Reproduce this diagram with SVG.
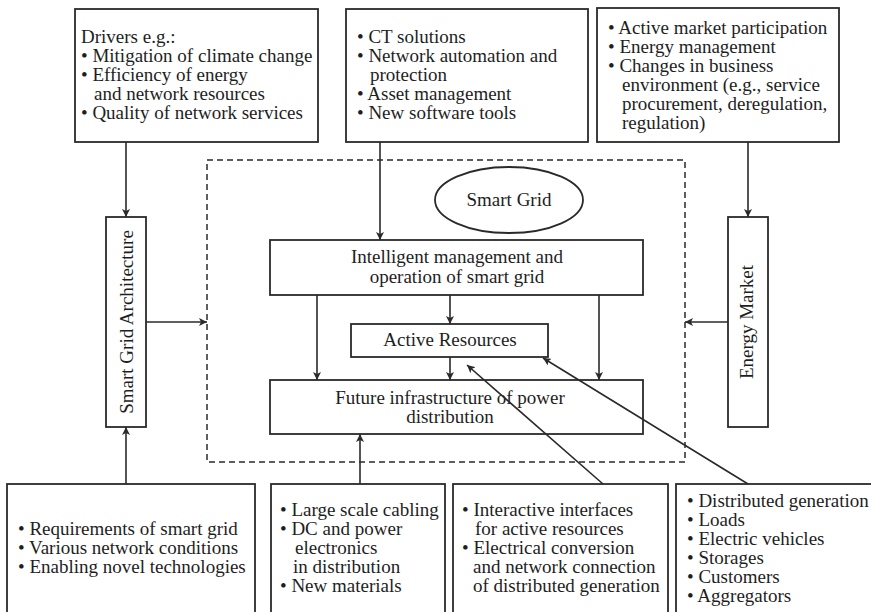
<svg xmlns="http://www.w3.org/2000/svg" width="871" height="612" viewBox="0 0 871 612" font-family="'Liberation Serif', 'Times New Roman', 'DejaVu Serif', serif">
  <style>
    .box { fill: #fff; stroke: #2a2a2a; stroke-width: 1.8; }
    .dash { fill: none; stroke: #2a2a2a; stroke-width: 1.5; stroke-dasharray: 6 4; }
    .wire { fill: none; stroke: #2a2a2a; stroke-width: 1.6; marker-end: url(#arrow); }
    text { font-family: 'Liberation Serif', 'Times New Roman', serif; font-size: 19px; fill: #1e1e1e; }
    .mid { text-anchor: middle; }
  </style>
  <defs>
    <marker id="arrow" viewBox="0 0 10 10" refX="10" refY="5" markerWidth="8" markerHeight="8" orient="auto" markerUnits="userSpaceOnUse">
      <path d="M0,0 L10,5 L0,10 L2.5,5 Z" fill="#2a2a2a"/>
    </marker>
  </defs>
  <rect width="871" height="612" fill="#fff"/>

  <!-- dashed smart grid frame -->
  <rect id="frame" class="dash" x="207" y="160" width="478" height="302"/>

  <g id="drivers">
    <rect class="box" x="75" y="9" width="243" height="133"/>
    <text x="81" y="43">Drivers e.g.:</text>
    <text x="81" y="62">• Mitigation of climate change</text>
    <text x="81" y="81">• Efficiency of energy</text>
    <text x="94" y="100">and network resources</text>
    <text x="81" y="119">• Quality of network services</text>
  </g>

  <g id="ict">
    <rect class="box" x="346" y="9" width="242" height="133"/>
    <text x="357" y="43">• CT solutions</text>
    <text x="357" y="62">• Network automation and</text>
    <text x="370" y="81">protection</text>
    <text x="357" y="100">• Asset management</text>
    <text x="357" y="119">• New software tools</text>
  </g>

  <g id="market-drivers">
    <rect class="box" x="597" y="8" width="242" height="134"/>
    <text x="608" y="34">• Active market participation</text>
    <text x="608" y="53">• Energy management</text>
    <text x="608" y="72">• Changes in business</text>
    <text x="622" y="91">environment (e.g., service</text>
    <text x="622" y="110">procurement, deregulation,</text>
    <text x="622" y="129">regulation)</text>
  </g>

  <g id="architecture">
    <rect class="box" x="106" y="217" width="40" height="210"/>
    <text class="mid" transform="translate(133 322) rotate(-90)">Smart Grid Architecture</text>
  </g>

  <g id="energy-market">
    <rect class="box" x="728" y="217" width="40" height="210"/>
    <text class="mid" transform="translate(753 322) rotate(-90)">Energy Market</text>
  </g>

  <g id="smart-grid">
    <ellipse class="box" cx="509" cy="200" rx="74" ry="33"/>
    <text class="mid" x="509" y="206">Smart Grid</text>
  </g>

  <g id="management">
    <rect class="box" x="270" y="240" width="373" height="55"/>
    <text class="mid" x="457" y="263">Intelligent management and</text>
    <text class="mid" x="457" y="283">operation of smart grid</text>
  </g>

  <g id="active-resources">
    <rect class="box" x="351" y="324" width="197" height="33"/>
    <text class="mid" x="450" y="346">Active Resources</text>
  </g>

  <g id="infrastructure">
    <rect class="box" x="270" y="380" width="373" height="54"/>
    <text class="mid" x="450" y="404">Future infrastructure of power</text>
    <text class="mid" x="450" y="423">distribution</text>
  </g>

  <g id="requirements">
    <rect class="box" x="7" y="484" width="248" height="140"/>
    <text x="18" y="535">• Requirements of smart grid</text>
    <text x="18" y="554">• Various network conditions</text>
    <text x="18" y="573">• Enabling novel technologies</text>
  </g>

  <g id="cabling">
    <rect class="box" x="271" y="484" width="174" height="140"/>
    <text x="280" y="516">• Large scale cabling</text>
    <text x="280" y="535">• DC and power</text>
    <text x="295" y="554">electronics</text>
    <text x="293" y="573">in distribution</text>
    <text x="280" y="592">• New materials</text>
  </g>

  <g id="interfaces">
    <rect class="box" x="453" y="484" width="215" height="140"/>
    <text x="462" y="516">• Interactive interfaces</text>
    <text x="475" y="535">for active resources</text>
    <text x="462" y="554">• Electrical conversion</text>
    <text x="473" y="573">and network connection</text>
    <text x="473" y="592">of distributed generation</text>
  </g>

  <g id="resources-list">
    <rect class="box" x="676" y="484" width="210" height="140"/>
    <text x="687" y="507">• Distributed generation</text>
    <text x="687" y="526">• Loads</text>
    <text x="687" y="545">• Electric vehicles</text>
    <text x="687" y="564">• Storages</text>
    <text x="687" y="583">• Customers</text>
    <text x="687" y="602">• Aggregators</text>
  </g>

  <!-- connectors drawn last so the diagonals cross over the boxes -->
  <g id="connectors">
    <line class="wire" x1="126" y1="142" x2="126" y2="217"/>
    <line class="wire" x1="126" y1="484" x2="126" y2="427"/>
    <line class="wire" x1="146" y1="322" x2="207" y2="322"/>
    <line class="wire" x1="748" y1="142" x2="748" y2="217"/>
    <line class="wire" x1="728" y1="322" x2="685" y2="322"/>
    <line class="wire" x1="380" y1="142" x2="380" y2="240"/>
    <line class="wire" x1="317" y1="295" x2="317" y2="380"/>
    <line class="wire" x1="450" y1="295" x2="450" y2="324"/>
    <line class="wire" x1="450" y1="357" x2="450" y2="380"/>
    <line class="wire" x1="599" y1="295" x2="599" y2="380"/>
    <line class="wire" x1="360" y1="484" x2="360" y2="434"/>
    <line class="wire" x1="603" y1="484" x2="467" y2="365"/>
    <line class="wire" x1="748" y1="484" x2="543" y2="358"/>
  </g>
</svg>
